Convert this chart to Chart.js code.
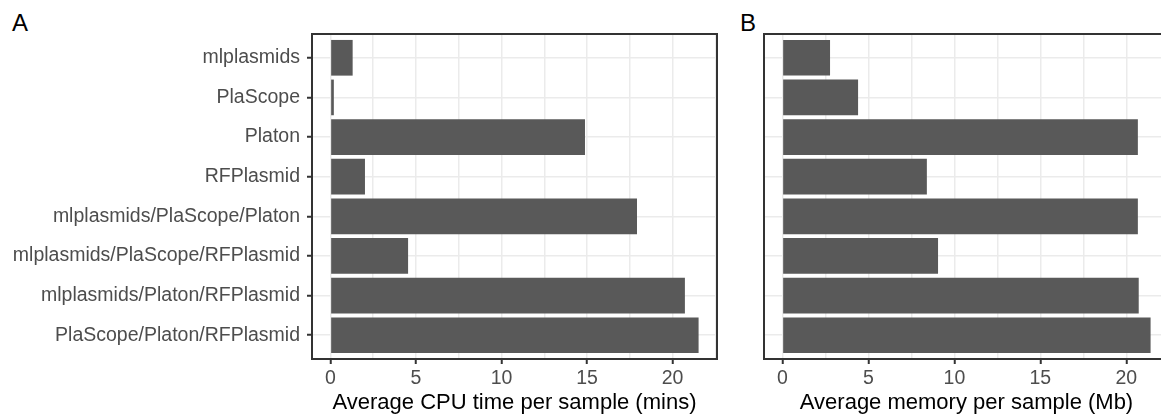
<!DOCTYPE html>
<html>
<head>
<meta charset="utf-8">
<script src="https://cdn.jsdelivr.net/npm/chart.js@4.4.1/dist/chart.umd.min.js"></script>
<style>
  html, body { margin: 0; padding: 0; background: #fff; overflow: hidden; width: 1161px; height: 414px; }
  .panel { position: absolute; top: 0; height: 414px; }
  .tag { position: absolute; font-family: "Liberation Sans", Arial, sans-serif; font-size: 24px; line-height: 24px; color: #000; }
</style>
</head>
<body>
<div class="tag" style="left:12px;top:11px">A</div>
<div class="tag" style="left:740px;top:11px">B</div>
<div class="panel" style="left:0;width:740px"><canvas id="cpu"></canvas></div>
<div class="panel" style="left:740px;width:440px"><canvas id="mem"></canvas></div>
<script>
const tools = [
  'mlplasmids',
  'PlaScope',
  'Platon',
  'RFPlasmid',
  'mlplasmids/PlaScope/Platon',
  'mlplasmids/PlaScope/RFPlasmid',
  'mlplasmids/Platon/RFPlasmid',
  'PlaScope/Platon/RFPlasmid'
]
const cpuMins = [1.30, 0.20, 14.88, 2.02, 17.92, 4.54, 20.72, 21.52]
const memMb = [2.77, 4.40, 20.67, 8.40, 20.67, 9.05, 20.72, 21.41]
const majorTicks = [0, 5, 10, 15, 20]
const minorTicks = [2.5, 7.5, 12.5, 17.5, 22.5]

const font = '"Liberation Sans", Arial, sans-serif'
const gridColor = '#EBEBEB'
const darkLine = '#333333'

// box around the plotting area, drawn over the bars
const panelBorder = {
  id: 'panelBorder',
  afterDatasetsDraw(chart) {
    let ctx = chart.ctx
    let a = chart.chartArea
    ctx.save()
    ctx.strokeStyle = darkLine
    ctx.lineWidth = 2
    ctx.strokeRect(a.left, a.top, a.right - a.left, a.bottom - a.top)
    ctx.restore()
  }
}

function makeConfig(values, title, showNames, yWidth, padRight) {
  let top = Math.max(...values)
  let xMin = -0.05 * top
  let xMax = top * 1.05
  let xTicks = majorTicks.concat(minorTicks).filter(v => v <= xMax).sort((a, b) => a - b)
  return {
    type: 'bar',
    data: {
      datasets: [{
        data: values.map((v, i) => ({ x: v, y: i + 1 })),
        backgroundColor: '#595959',
        borderWidth: 0,
        categoryPercentage: 1,
        barPercentage: 0.9
      }]
    },
    options: {
      indexAxis: 'y',
      responsive: true,
      maintainAspectRatio: false,
      animation: false,
      layout: { padding: { top: 34, right: padRight, bottom: 0, left: 0 } },
      plugins: { legend: { display: false }, tooltip: { enabled: false } },
      scales: {
        x: {
          type: 'linear',
          min: xMin,
          max: xMax,
          afterBuildTicks: s => { s.ticks = xTicks.map(v => ({ value: v })) },
          afterFit: s => { s.height = 55 },
          border: { display: false },
          grid: {
            color: gridColor,
            lineWidth: 1.5,
            tickLength: 5,
            tickWidth: 2,
            tickColor: c => majorTicks.includes(c.tick.value) ? darkLine : 'rgba(0,0,0,0)'
          },
          ticks: {
            padding: 3,
            color: '#4D4D4D',
            font: { family: font, size: 19.5 },
            maxRotation: 0,
            autoSkip: false,
            callback: v => majorTicks.includes(v) ? String(v) : ''
          },
          title: {
            display: true,
            text: title,
            color: '#000',
            padding: 0,
            font: { family: font, size: 22, lineHeight: 1 }
          }
        },
        y: {
          type: 'linear',
          reverse: true,
          offset: false,
          min: 0.4,
          max: tools.length + 0.6,
          afterBuildTicks: s => { s.ticks = tools.map((t, i) => ({ value: i + 1 })) },
          afterFit: s => { s.width = yWidth },
          border: { display: false },
          grid: {
            offset: false,
            color: gridColor,
            lineWidth: 1.5,
            drawTicks: showNames,
            tickLength: 5,
            tickWidth: 2,
            tickColor: darkLine
          },
          ticks: {
            display: showNames,
            padding: 7,
            color: '#4D4D4D',
            font: { family: font, size: 19.5 },
            autoSkip: false,
            callback: v => tools[v - 1]
          }
        }
      }
    },
    plugins: [panelBorder]
  }
}

new Chart(document.querySelector('#cpu'), makeConfig(cpuMins, 'Average CPU time per sample (mins)', true, 312, 23))
new Chart(document.querySelector('#mem'), makeConfig(memMb, 'Average memory per sample (Mb)', false, 24, 11))
</script>
</body>
</html>
